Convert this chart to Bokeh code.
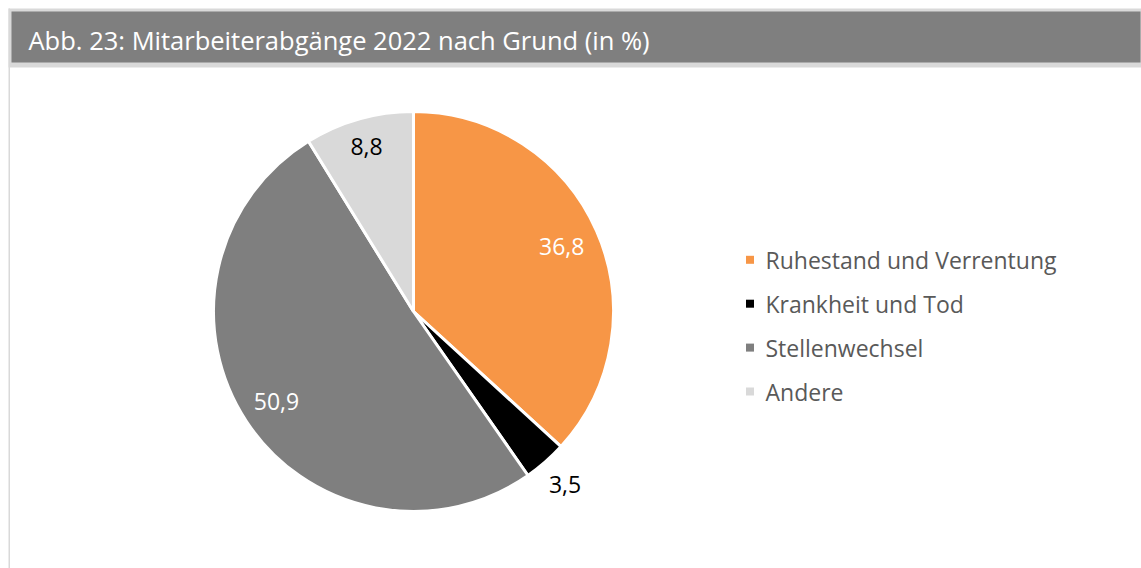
import math
from bokeh.plotting import figure
from bokeh.models import Range1d, ColumnDataSource
from bokeh.core.properties import value
from bokeh.embed import file_html
from bokeh.resources import INLINE

title = "Abb. 23: Mitarbeiterabgänge 2022 nach Grund (in %)"
categories = ["Ruhestand und Verrentung", "Krankheit und Tod", "Stellenwechsel", "Andere"]
values = [36.8, 3.5, 50.9, 8.8]
labels = ["36,8", "3,5", "50,9", "8,8"]
colors = ["#f79646", "#000000", "#7f7f7f", "#d9d9d9"]
label_colors = ["white", "black", "white", "black"]
label_r = [0.81, 1.15, 0.82, 0.86]

W, H = 1141, 568
p = figure(width=W, height=H, output_backend="svg", toolbar_location=None,
           x_range=Range1d(0, W), y_range=Range1d(0, H), min_border=0,
           outline_line_color=None)
p.axis.visible = False
p.grid.visible = False
p.background_fill_color = "white"
p.border_fill_color = "white"

# frame decoration
p.quad(left=[8], right=[W], bottom=[501], top=[560], fill_color="#d9d9d9", line_color=None)
p.quad(left=[11], right=[W - 1], bottom=[506], top=[557], fill_color="#7f7f7f", line_color=None)
p.quad(left=[8], right=[9.5], bottom=[0], top=[560], fill_color="#d9d9d9", line_color=None)
p.text(x=[28], y=[529], text=[title], text_color="white", text_font=value("Open Sans"),
       text_font_size="25.5px", text_baseline="middle", text_align="left")

# pie
cx, cy, R = 413, 257, 200
total = sum(values)
starts, ends, lx, ly = [], [], [], []
cum = 0.0
for v, rf in zip(values, label_r):
    a0 = math.pi / 2 - 2 * math.pi * cum / total
    cum += v
    a1 = math.pi / 2 - 2 * math.pi * cum / total
    starts.append(a0)
    ends.append(a1)
    mid = (a0 + a1) / 2
    lx.append(cx + R * rf * math.cos(mid))
    ly.append(cy + R * rf * math.sin(mid))

src = ColumnDataSource(dict(start=starts, end=ends, color=colors, lx=lx, ly=ly,
                            label=labels, lcolor=label_colors))
p.wedge(x=cx, y=cy, radius=R, start_angle="start", end_angle="end", direction="clock",
        fill_color="color", line_color="white", line_width=3, source=src)
p.text(x="lx", y="ly", text="label", text_color="lcolor", source=src,
       text_font=value("Open Sans"), text_font_size="23px",
       text_align="center", text_baseline="middle")

# legend
n = len(categories)
leg_y = [308.7 - 43.9 * i for i in range(n)]
p.scatter(x=[749.5] * n, y=leg_y, marker="square", size=8, fill_color=colors, line_color=None)
p.text(x=[765] * n, y=leg_y, text=categories, text_color="#595959",
       text_font=value("Open Sans"), text_font_size="23px",
       text_align="left", text_baseline="middle")

open("out.html", "w").write(file_html(p, INLINE))
